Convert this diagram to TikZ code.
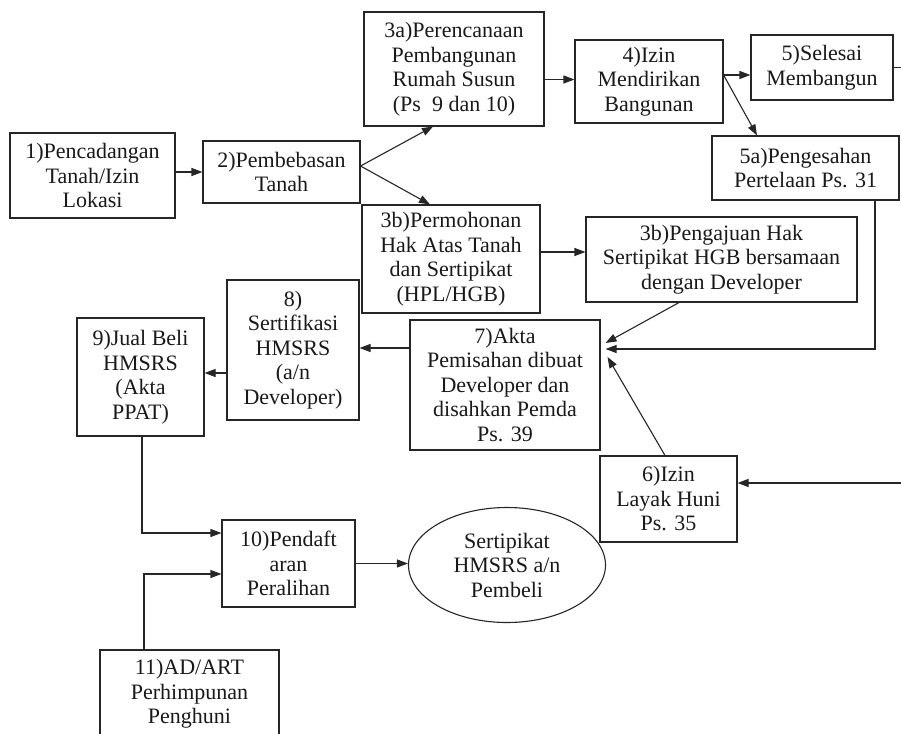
\documentclass[tikz,border=0pt]{standalone}
\usepackage{fontspec}
\setmainfont{Liberation Serif}
\usetikzlibrary{shapes.geometric,arrows.meta,calc}
\begin{document}
\begin{tikzpicture}[x=1pt,y=-1pt,
  box/.style={draw=black!85,line width=1.1pt,rectangle,inner sep=0pt,align=center,
    font=\fontsize{22}{24.5}\selectfont,text=black!90},
  oval/.style={draw=black!85,line width=1.1pt,ellipse,inner sep=0pt,align=center,
    font=\fontsize{22}{24.5}\selectfont,text=black!90},
  arr/.style={draw=black!85,line width=1.1pt,-{Triangle[length=11pt,width=8pt]}},
  ln/.style={draw=black!85,line width=1.1pt}]
\clip (0,0) rectangle (901,733);
\fill[white] (0,0) rectangle (901,733);
\node[box,minimum width=165pt,minimum height=85pt] (b1) at (92.5,175.5) {1)Pencadangan\\Tanah/Izin\\Lokasi};
\node[box,minimum width=157pt,minimum height=62pt] (b2) at (281.5,172) {2)Pembebasan\\Tanah};
\node[box,minimum width=180pt,minimum height=114pt] (b3a) at (454,69) {3a)Perencanaan\\Pembangunan\\Rumah Susun\\(Ps~~9 dan 10)};
\node[box,minimum width=148pt,minimum height=83pt] (b4) at (649,81.5) {4)Izin\\Mendirikan\\Bangunan};
\node[box,minimum width=142pt,minimum height=65pt] (b5) at (822,67.5) {5)Selesai\\Membangun};
\node[box,minimum width=187pt,minimum height=64pt] (b5a) at (805.5,168) {5a)Pengesahan\\Pertelaan Ps. 31};
\node[box,minimum width=178pt,minimum height=108pt] (b3b1) at (451,259) {3b)Permohonan\\Hak Atas Tanah\\dan Sertipikat\\(HPL/HGB)};
\node[box,minimum width=271pt,minimum height=85pt] (b3b2) at (721.5,259.5) {3b)Pengajuan Hak\\Sertipikat HGB bersamaan\\dengan Developer};
\node[box,minimum width=190pt,minimum height=130pt] (b7) at (505,385) {7)Akta\\Pemisahan dibuat\\Developer dan\\disahkan Pemda\\Ps. 39};
\node[box,minimum width=132pt,minimum height=140pt] (b8) at (293,350) {8)\\Sertifikasi\\HMSRS\\(a/n\\Developer)};
\node[box,minimum width=127pt,minimum height=118pt] (b9) at (140.5,377) {9)Jual Beli\\HMSRS\\(Akta\\PPAT)};
\node[box,minimum width=133pt,minimum height=87pt] (b10) at (288.5,563.5) {10)Pendaft\\aran\\Peralihan};
\node[oval,minimum width=197pt,minimum height=115pt] (ell) at (507,565) {Sertipikat\\HMSRS a/n\\Pembeli};
\node[box,minimum width=137pt,minimum height=86pt] (b6) at (668.5,499) {6)Izin\\Layak Huni\\Ps. 35};
\node[box,minimum width=179pt,minimum height=88pt] (b11) at (189.5,694) {11)AD/ART\\Perhimpunan\\Penghuni};
% connectors
\draw[arr] (b2.west -| b1.east) -- (b2.west);
\draw[arr] ([yshift=6pt]b2.east) -- ([xshift=-21pt]b3a.south);
\draw[arr] ([yshift=6pt]b2.east) -- ([xshift=-21pt]b3b1.north);
\draw[arr] ([yshift=2pt]b4.west -| b3a.east) -- ([yshift=2pt]b4.west);
\draw[arr] ([yshift=6.5pt]b4.east) -- ([yshift=6.5pt]b4.east -| b5.west);
\draw[arr] ([yshift=6.5pt]b4.east) -- ([xshift=-48.5pt]b5a.north);
\draw[arr] (b5.east) -- ++(25,0) |- ([yshift=16pt]b6.east);
\draw[arr] ([xshift=69.5pt]b5a.south) |- ([xshift=5pt,yshift=36pt]b7.east);
\draw[arr] ([yshift=7pt]b3b1.east) -- ([yshift=7pt]b3b1.east -| b3b2.west);
\draw[arr] ([xshift=-42.5pt]b3b2.south) -- ([xshift=5pt,yshift=42pt]b7.east);
\draw[arr] ([xshift=-3.5pt]b6.north) -- ([xshift=7pt,yshift=28pt]b7.east);
\draw[arr] ([yshift=37pt]b7.west) -- ([yshift=37pt]b7.west -| b8.east);
\draw[arr] ([yshift=-23pt]b8.west) -- ([yshift=-23pt]b8.west -| b9.east);
\draw[arr] ([xshift=1.5pt]b9.south) |- ([yshift=30.5pt]b10.west);
\draw[arr] ([xshift=-45.5pt]b11.north) |- ([yshift=-10.5pt]b10.west);
\draw[arr] (b10.east) -- (b10.east -| ell.west);
\end{tikzpicture}
\end{document}
